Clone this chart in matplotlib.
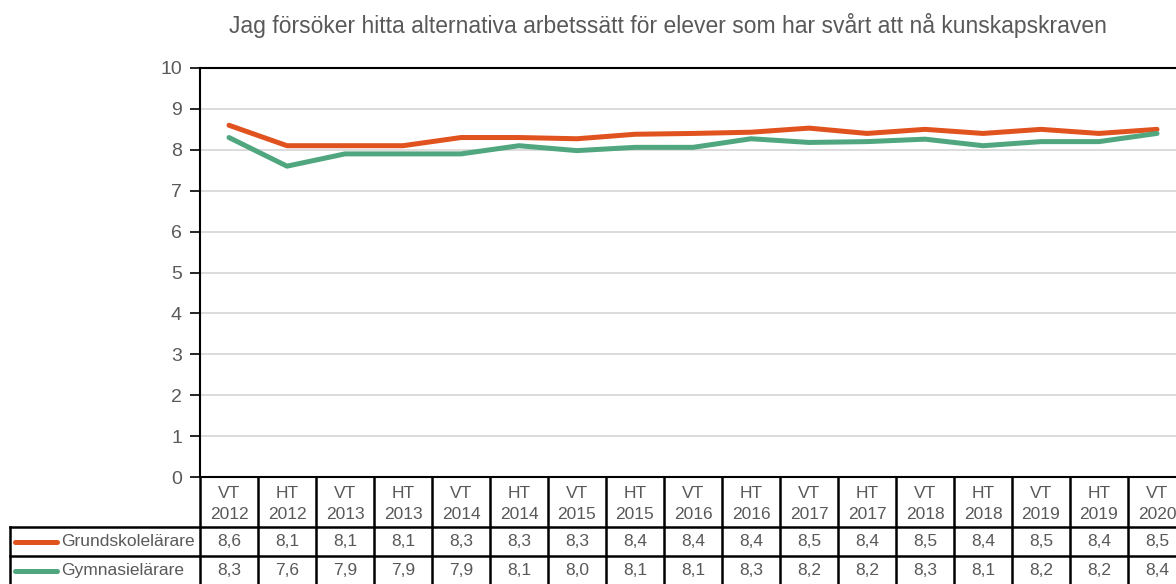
import matplotlib
matplotlib.use("Agg")
import matplotlib.pyplot as plt

title = "Jag försöker hitta alternativa arbetssätt för elever som har svårt att nå kunskapskraven"
terms = ["VT", "HT", "VT", "HT", "VT", "HT", "VT", "HT", "VT", "HT", "VT", "HT", "VT", "HT", "VT", "HT", "VT"]
years = ["2012", "2012", "2013", "2013", "2014", "2014", "2015", "2015", "2016", "2016",
         "2017", "2017", "2018", "2018", "2019", "2019", "2020"]
series_names = ["Grundskolelärare", "Gymnasielärare"]
grund = [8.6, 8.1, 8.1, 8.1, 8.3, 8.3, 8.27, 8.38, 8.4, 8.43, 8.53, 8.4, 8.5, 8.4, 8.5, 8.4, 8.5]
gymn = [8.3, 7.6, 7.9, 7.9, 7.9, 8.1, 7.98, 8.06, 8.06, 8.27, 8.18, 8.2, 8.26, 8.1, 8.2, 8.2, 8.4]
colors = ["#E0521E", "#50A67E"]
yticks = [0, 1, 2, 3, 4, 5, 6, 7, 8, 9, 10]

FONT = ["Liberation Sans", "DejaVu Sans"]
plt.rcParams["font.family"] = FONT
TXT = "#595959"

W, H = 1176, 584
fig = plt.figure(figsize=(W / 100, H / 100), dpi=100)

n = len(terms)
px_per_cat = 58.0
ax_left, ax_right = 200, 200 + px_per_cat * n
ax_top, ax_bot = 68, 477

ax = fig.add_axes([ax_left / W, (H - ax_bot) / H, (ax_right - ax_left) / W, (ax_bot - ax_top) / H])
x = list(range(n))
for vals, c, name in zip([grund, gymn], colors, series_names):
    ax.plot(x, vals, color=c, lw=3.6, solid_capstyle="round", zorder=3, label=name)
ax.set_xlim(-0.5, n - 0.5)
ax.set_ylim(0, 10)
ax.set_yticks(yticks)
ax.set_yticklabels([str(v) for v in yticks], fontsize=14, color=TXT)
ax.tick_params(axis="y", direction="out", length=7, width=1.2, color="black", pad=6)
ax.set_xticks([])
ax.grid(axis="y", color="#D9D9D9", lw=1.3, zorder=0)
for s in ["left", "top"]:
    ax.spines[s].set_color("black")
    ax.spines[s].set_linewidth(1.5)
ax.spines["right"].set_visible(False)
ax.spines["bottom"].set_color("black")
ax.spines["bottom"].set_linewidth(1.5)

fig.text(668 / W, (H - 25) / H, title, ha="center", va="center", fontsize=16.5, color=TXT)

# data table
hdr_h, row_h = 50, 29
tbl_h = hdr_h + 2 * row_h
tax = fig.add_axes([ax_left / W, (H - ax_bot - tbl_h) / H, (ax_right - ax_left) / W, tbl_h / H])
tax.set_xlim(-0.5, n - 0.5)
tax.set_ylim(tbl_h, 0)
tax.axis("off")
lw = 1.8
legend_x0 = -0.5 - (ax_left - 10) / px_per_cat
for i in range(n + 1):
    tax.plot([i - 0.5, i - 0.5], [0, tbl_h], color="black", lw=lw, clip_on=False)
for yy in [hdr_h, hdr_h + row_h, tbl_h]:
    tax.plot([legend_x0, n - 0.5], [yy, yy], color="black", lw=lw, clip_on=False)
tax.plot([legend_x0, legend_x0], [hdr_h, tbl_h], color="black", lw=lw, clip_on=False)
for i in range(n):
    tax.text(i, hdr_h / 2 + 2, f"{terms[i]}\n{years[i]}", ha="center", va="center",
             fontsize=12.5, color=TXT, linespacing=1.55, clip_on=False)
for r, (vals, c, name) in enumerate(zip([grund, gymn], colors, series_names)):
    yc = hdr_h + row_h * r + row_h / 2
    for i, v in enumerate(vals):
        tax.text(i, yc, f"{v:.1f}".replace(".", ","), ha="center", va="center",
                 fontsize=12.5, color=TXT, clip_on=False)
    lx0 = legend_x0 + 5 / px_per_cat
    tax.plot([lx0, lx0 + 42 / px_per_cat], [yc, yc], color=c, lw=3.6,
             solid_capstyle="round", clip_on=False)
    tax.text(lx0 + 46 / px_per_cat, yc, name, ha="left", va="center",
             fontsize=12.5, color=TXT, clip_on=False)

fig.savefig("out.png", dpi=100)
